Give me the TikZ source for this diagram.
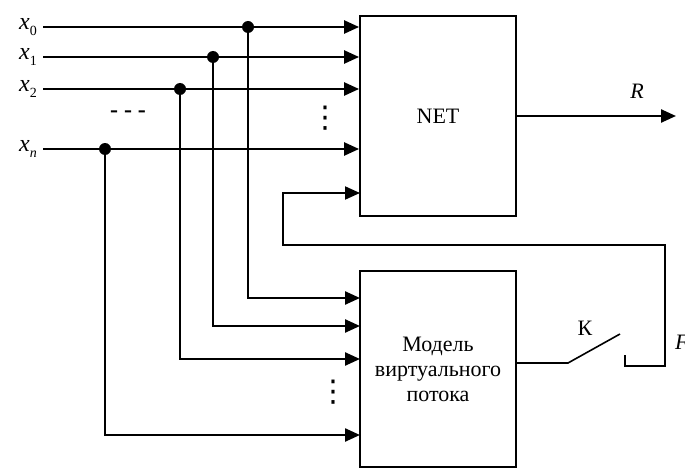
\documentclass[tikz,border=0pt]{standalone}
\usepackage{fontspec}
\setmainfont{Liberation Serif}
\newfontfamily\dotsfont{DejaVu Sans}
\usetikzlibrary{arrows.meta}
\newcommand{\xlab}[1]{\textit{x}\raisebox{-0.6ex}{\fontsize{14}{14}\selectfont#1}}

\begin{document}
\begin{tikzpicture}[x=1pt,y=-1pt,font=\fontsize{22}{25}\selectfont,>={Triangle[length=15pt,width=13pt]},
  wire/.style={line width=2.4pt},
  fbwire/.style={line width=2pt},
  blockbox/.style={draw,line width=1.8pt,minimum width=156pt,inner sep=0pt,align=center},
  vdotsnode/.style={font=\dotsfont\fontsize{30}{30}\selectfont,inner sep=0pt}]
  \useasboundingbox (0,0) rectangle (685,468);
  \node[blockbox,minimum height=200pt] (net) at (438,116) {NET};
  \node[blockbox,minimum height=196pt] (model) at (438,369) {Модель\\виртуального\\потока};
  \foreach \i/\t/\y/\jx/\my in {0/{0}/27/248/298,1/{1}/57/213/326,2/{2}/89/180/359,n/{\itshape n}/149/105/435}{
    \node[anchor=east,inner sep=0pt,font=\fontsize{24}{24}\selectfont] (x\i) at (37,\y) {\xlab{\t}};
    \coordinate (j\i) at (\jx,\y);
    \coordinate (m\i) at (360,\my);
    \draw[wire,->] ([xshift=6pt]x\i.east) -- (net.west |- x\i);
    \draw[wire,->] (j\i) |- (m\i);
    \fill (j\i) circle[radius=6pt];
  }
  \node[font=\fontsize{24}{24}\selectfont\bfseries] (hdots) at (128,114) {- - -};
  \node[vdotsnode] (vdots1) at (325,118) {⋮};
  \node[vdotsnode] (vdots2) at (333,392) {⋮};
  \coordinate (rout) at (676,116);
  \draw[wire,->] (net.east) -- (rout);
  \node (rlbl) at (637,91) {\textit{R}};
  \coordinate (k1) at (568,363);
  \coordinate (k2) at (620,334);
  \coordinate (h1) at (625,355);
  \coordinate (h2) at (625,366);
  \coordinate (fbr) at (665,245);
  \coordinate (fbl) at (283,245);
  \coordinate (fbin) at (360,193);
  \draw[line width=1.6pt] ([yshift=6pt]model.east) -- (k1) -- (k2);
  \draw[fbwire,->] (h1) -- (h2) -| (fbr) -- (fbl) |- (fbin);
  \node (klbl) at (585,328) {К};
  \node[anchor=west,inner sep=0pt] (flbl) at (675,342) {\textit{F}};
\end{tikzpicture}
\end{document}
